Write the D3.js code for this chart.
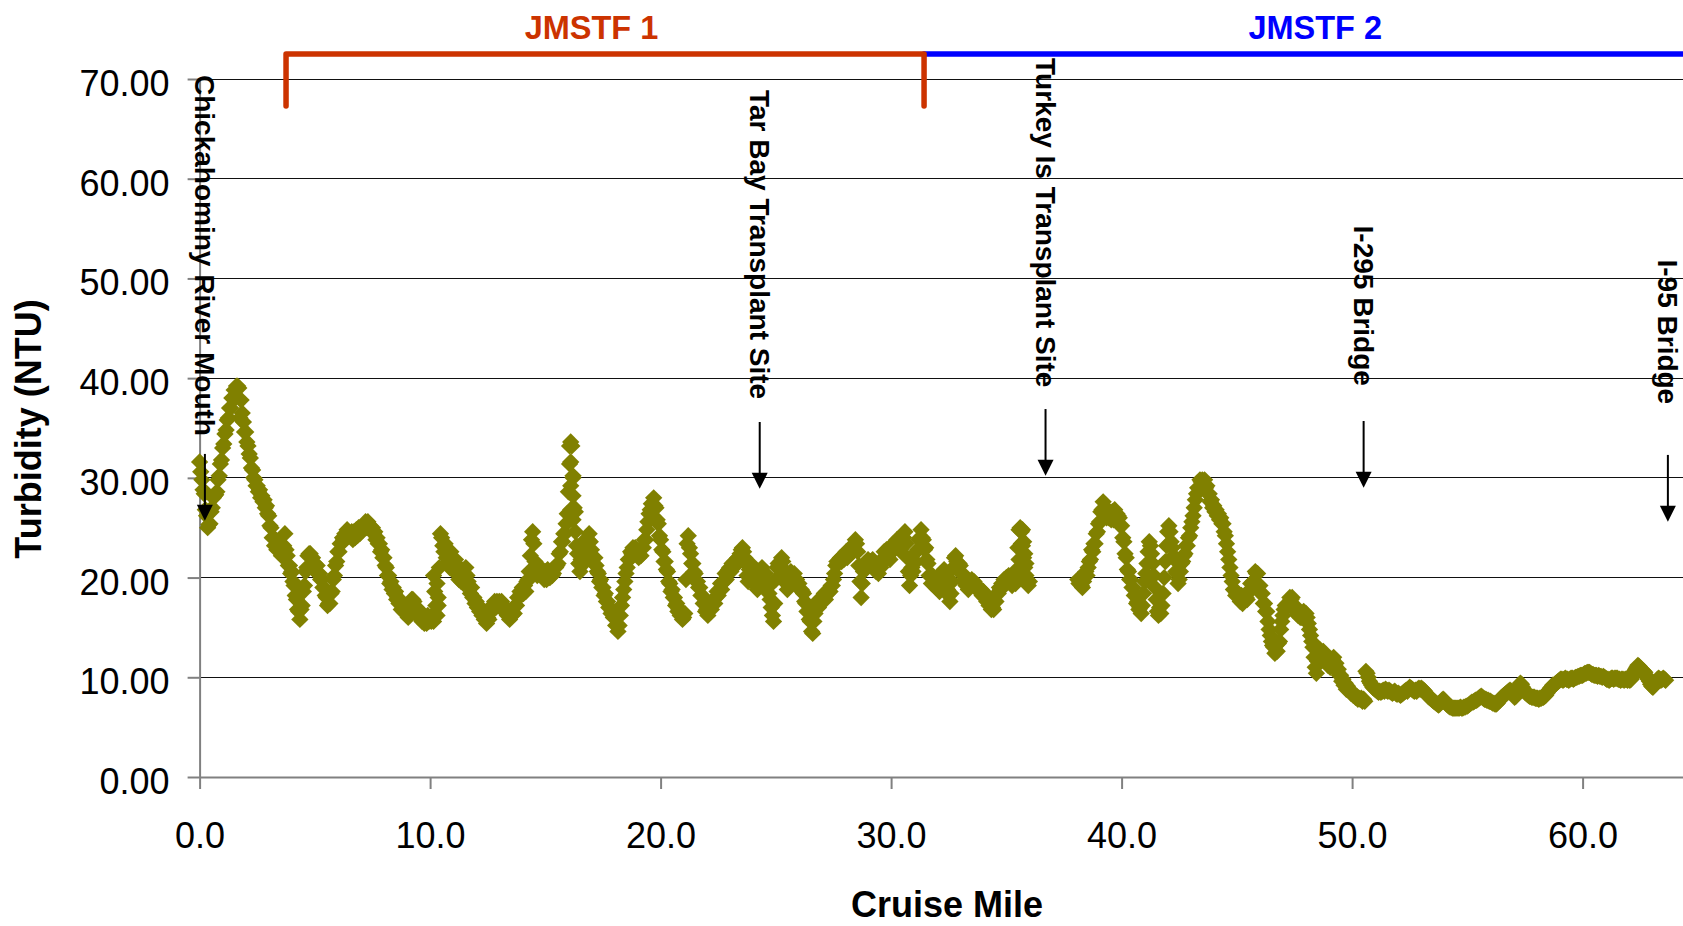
<!DOCTYPE html>
<html>
<head>
<meta charset="utf-8">
<script src="https://cdn.jsdelivr.net/npm/d3@7"></script>
<style>
  body { margin: 0; background: #fff; }
  svg { display: block; }
  text { font-family: "Liberation Sans", Arial, sans-serif; }
</style>
</head>
<body>
<svg id="chart" width="1683" height="926"></svg>
<script>
// Turbidity readings, one every 0.05 cruise mile, per segment (start mile given)
const STEP = 0.05;

// miles 0.00 - 11.95
const seg1Start = 0.0;
const seg1 = [
  31.6,30.6,29.8,28.8,28.4,26.8,26.2,25.0,25.3,25.4,26.6,27.0,28.0,28.2,28.3,28.6,29.8,30.2,31.4,31.8,
  33.0,33.4,34.4,34.8,35.8,36.0,37.0,37.0,38.0,38.0,38.8,38.0,39.2,39.2,39.0,36.0,37.8,36.5,35.6,34.6,
  34.6,33.6,33.2,32.4,32.0,31.0,30.8,30.0,29.8,29.2,29.2,28.6,28.8,28.0,28.2,27.6,27.8,27.0,27.2,26.4,
  26.2,25.2,25.0,24.0,24.0,23.2,23.8,22.8,22.8,23.0,23.0,22.2,22.2,23.2,24.4,22.8,22.2,21.2,21.2,20.4,
  20.6,19.6,19.2,18.2,17.8,16.8,16.6,15.8,16.8,17.2,18.6,19.2,20.6,21.0,22.2,22.4,22.4,21.2,22.0,20.8,
  21.4,20.6,21.2,20.4,20.4,19.8,19.8,19.0,19.0,18.2,18.0,17.2,17.4,17.4,18.4,18.6,19.8,20.2,21.2,21.6,
  22.6,22.6,23.4,23.4,24.0,23.8,24.4,24.2,24.8,24.2,24.4,24.4,24.6,23.8,24.6,24.0,24.8,24.2,25.0,24.4,
  25.0,24.8,25.0,25.0,25.6,25.0,25.6,25.0,25.2,25.0,25.0,24.4,24.6,23.8,24.0,23.4,23.4,22.6,22.8,22.0,
  22.0,21.2,21.0,20.2,20.2,19.4,19.6,18.8,19.0,18.4,18.6,17.8,18.0,17.4,17.6,16.8,17.4,16.6,16.8,16.6,
  16.6,16.0,16.8,16.8,17.8,17.8,17.6,16.8,17.0,16.2,16.8,16.0,16.2,15.6,16.2,15.4,16.0,15.4,16.2,15.6,
  15.8,15.6,16.2,15.6,16.4,16.2,16.2,17.2,21.0,24.4,24.0,23.2,22.6,23.4,22.0,21.4,22.2,21.0,22.6,21.8,
  21.4,20.6,21.8,20.4,21.2,19.8,20.6,19.6,20.2,19.4,20.4,21.0,20.2,19.6,19.2,18.4,19.0,18.0,18.0,17.4
];

// miles 12.00 - 23.95
const seg2Start = 12.0;
const seg2 = [
  17.6,17.0,17.2,16.6,16.8,16.2,16.4,15.8,16.0,15.4,16.0,15.8,16.6,16.6,17.2,17.0,17.6,17.0,17.6,17.4,
  17.6,17.0,17.6,17.0,17.2,16.6,16.8,16.2,16.4,15.8,16.4,16.2,16.4,16.4,17.2,17.2,18.0,18.0,18.6,18.4,
  19.0,18.4,19.2,18.6,19.6,19.8,20.6,22.2,23.8,24.6,23.4,21.6,20.8,20.2,21.2,20.4,20.4,20.6,20.6,19.8,
  20.6,19.8,20.8,20.0,20.0,20.2,20.2,20.4,21.0,21.0,21.2,21.4,22.4,22.6,23.6,23.6,24.4,24.4,25.4,26.4,
  28.6,31.4,33.6,33.2,30.2,27.0,24.6,23.2,22.4,21.4,20.6,21.8,22.8,23.6,22.4,21.6,22.8,23.8,24.4,23.6,
  22.8,22.0,21.4,22.0,21.2,20.6,20.4,19.6,19.8,19.0,19.0,18.2,18.4,17.6,17.6,17.0,17.0,16.4,16.6,16.0,
  16.0,15.2,15.2,14.6,15.2,16.2,17.2,18.0,18.8,19.6,20.4,21.0,21.8,21.8,22.6,22.4,23.0,22.8,23.0,22.4,
  22.6,22.0,22.8,22.2,23.0,23.0,23.8,23.8,24.8,25.6,26.4,26.8,27.4,27.4,28.0,27.2,27.0,25.8,25.4,24.2,
  23.8,22.8,22.6,21.6,21.6,20.8,20.6,19.6,19.4,18.6,18.8,18.0,18.0,17.2,17.4,16.6,16.8,16.2,16.4,15.8,
  16.0,16.4,19.8,23.4,24.2,23.0,22.4,21.4,21.4,20.6,20.4,19.6,19.6,19.0,19.0,18.2,18.2,17.4,17.4,16.6,
  16.8,16.2,17.0,17.2,16.8,17.4,17.8,17.4,18.0,18.6,18.2,18.8,19.4,18.8,19.6,19.6,20.4,19.8,20.6,20.8,
  21.0,20.6,21.4,21.2,21.6,21.2,21.8,22.0,21.6,22.4,22.8,23.0,22.6,22.0,21.4,20.2,19.6,20.8,21.4,20.6
];

// miles 24.00 - 36.00
const seg3Start = 24.0;
const seg3 = [
  20.2,19.6,20.4,19.2,18.8,19.6,20.2,20.8,21.0,20.4,19.8,20.4,19.6,19.0,18.4,17.8,17.0,16.2,15.6,17.4,
  19.8,21.0,21.4,21.0,21.6,22.0,21.6,20.8,20.0,19.4,18.8,19.6,20.2,20.6,20.2,19.8,20.4,19.6,19.8,19.4,
  19.4,18.8,18.8,18.6,18.4,17.6,17.4,16.6,16.6,15.8,15.6,14.6,14.4,15.6,16.4,17.0,17.6,17.0,17.8,17.6,
  18.0,17.8,18.4,17.8,18.6,18.4,18.6,18.6,19.2,19.2,19.8,20.4,21.2,21.6,21.4,21.8,22.0,21.6,22.2,21.8,
  22.2,22.6,22.0,22.4,22.8,22.4,22.8,23.2,23.4,23.8,23.4,22.6,21.2,19.6,18.0,19.4,20.6,21.2,21.4,21.0,
  21.8,21.6,21.6,21.6,21.8,21.0,21.2,20.6,21.2,20.4,21.0,21.0,21.8,21.8,22.6,22.0,22.8,22.0,22.6,21.8,
  22.6,22.6,23.4,23.4,23.6,23.8,23.8,22.8,22.8,23.0,24.0,24.0,24.6,23.4,22.0,20.6,19.2,20.2,21.0,20.6,
  21.4,21.6,22.6,22.8,23.8,24.0,24.8,24.0,23.8,22.8,23.0,21.8,21.4,20.2,20.2,19.4,20.2,19.4,19.6,19.0,
  19.2,18.8,18.6,19.0,19.8,20.6,20.8,20.2,19.4,18.8,18.2,17.6,18.4,19.6,21.0,22.0,22.2,21.6,21.2,21.4,
  21.2,20.4,20.4,19.6,19.8,19.2,19.4,18.8,19.4,19.2,19.8,19.6,19.6,19.0,19.2,19.0,19.0,18.8,18.8,18.2,
  18.6,18.0,18.2,17.6,17.8,17.2,17.4,16.8,17.0,16.8,17.6,17.6,18.4,18.4,19.0,18.8,19.4,19.2,19.8,19.6,
  20.0,19.8,20.2,19.8,19.6,19.2,19.6,20.0,19.4,20.8,23.0,24.8,25.0,24.6,23.2,22.0,21.0,20.2,19.8,19.2,
  19.6
];

// miles 38.10 - 49.95
const seg4Start = 38.1;
const seg4 = [
  19.8,19.4,19.6,19.2,19.0,19.6,20.2,20.6,20.2,21.0,21.6,21.8,22.8,22.6,23.4,23.4,24.4,24.6,
  25.4,25.6,26.6,26.8,27.6,27.0,26.8,26.0,26.8,26.0,26.0,25.8,26.6,25.8,26.8,26.2,26.4,26.2,26.0,25.2,
  25.2,24.0,23.6,22.4,22.0,20.8,20.6,19.8,19.8,19.0,19.0,18.2,18.2,17.4,17.6,16.8,17.0,16.4,17.2,18.4,
  19.6,20.4,21.4,22.6,23.6,23.2,22.4,21.4,20.2,19.0,17.8,16.6,16.2,17.0,16.4,17.2,18.4,20.0,21.6,23.2,
  24.6,25.2,24.6,23.6,23.0,22.2,21.8,20.6,20.4,19.4,19.8,20.6,21.4,21.6,22.2,22.4,23.2,23.2,24.0,24.2,
  25.0,25.6,26.2,27.0,27.8,28.4,29.0,29.0,29.8,29.6,29.8,29.2,29.8,29.0,29.2,28.4,28.4,27.6,27.8,27.0,
  27.2,26.6,26.8,26.2,26.4,25.8,26.0,25.4,25.4,24.6,24.2,23.4,22.6,21.8,21.0,20.2,19.6,18.8,18.8,18.2,
  18.4,18.2,18.2,17.6,18.2,17.4,18.0,18.0,18.0,17.8,18.6,18.6,19.4,19.4,19.6,19.6,20.6,20.4,20.4,19.2,
  19.2,18.4,18.4,17.4,17.4,16.6,16.6,15.6,14.8,14.2,13.6,13.2,13.0,12.4,13.2,12.6,13.4,13.6,14.8,15.6,
  16.2,16.8,17.2,17.2,17.4,17.4,18.0,17.8,18.0,17.2,17.2,16.6,16.8,16.2,16.2,16.0,16.0,16.0,16.6,16.4,
  16.4,16.0,15.4,14.8,14.2,13.6,13.0,12.0,11.0,10.4,11.6,12.4,12.8,12.4,12.0,12.6,12.2,11.8,11.6,11.2,
  11.2,11.0,11.8,11.8,12.0,11.2,11.4,10.6,10.8,10.2,10.2,9.6,9.8,9.2,9.4,8.8,9.1,8.7,8.7,8.4
];

// miles 50.00 - 63.60
const seg5Start = 50.0;
const seg5 = [
  8.5,8.2,8.3,8.0,8.1,7.8,7.9,7.8,7.9,7.6,7.8,7.6,10.6,10.4,10.0,9.6,9.4,9.2,9.0,8.9,
  8.8,8.7,8.6,8.5,8.6,8.5,8.6,8.7,8.6,8.8,8.7,8.6,8.7,8.6,8.5,8.4,8.5,8.6,8.4,8.3,
  8.4,8.3,8.2,8.3,8.4,8.5,8.6,8.7,8.6,8.8,9.0,8.9,8.8,8.7,8.6,8.7,8.6,8.8,8.9,8.8,
  8.9,8.8,8.7,8.6,8.4,8.3,8.1,8.0,7.9,7.8,7.7,7.6,7.5,7.4,7.3,7.2,7.3,7.5,7.7,7.8,
  7.7,7.5,7.3,7.2,7.1,7.0,7.0,6.9,6.9,6.9,6.9,6.9,6.9,6.9,7.0,6.9,6.9,7.0,7.0,7.1,
  7.1,7.2,7.3,7.4,7.5,7.5,7.6,7.7,7.7,7.8,7.9,8.0,8.1,8.0,7.9,7.8,7.8,7.7,7.7,7.6,
  7.6,7.5,7.4,7.4,7.3,7.3,7.4,7.6,7.7,7.9,8.0,8.1,8.2,8.3,8.4,8.5,8.6,8.7,8.6,8.4,
  8.2,8.0,8.1,8.4,8.8,9.1,9.4,9.3,9.0,8.7,8.5,8.4,8.3,8.2,8.1,8.1,8.0,8.0,8.0,7.9,
  7.9,7.9,7.8,7.9,7.9,8.0,8.0,8.1,8.2,8.4,8.6,8.7,8.9,9.0,9.2,9.2,9.3,9.4,9.5,9.6,
  9.7,9.8,9.8,9.7,9.8,9.9,9.8,9.8,9.7,9.8,9.9,9.9,9.8,9.9,10.0,10.0,10.1,10.1,10.2,10.2,
  10.2,10.3,10.4,10.4,10.5,10.5,10.5,10.4,10.3,10.3,10.2,10.2,10.2,10.1,10.2,10.1,10.1,10.0,10.1,10.0,
  9.9,9.8,9.8,9.7,9.8,9.9,9.9,9.8,9.9,9.9,9.9,9.8,9.8,9.7,9.8,9.8,9.7,9.8,9.8,9.7,
  9.8,9.7,9.8,10.0,10.3,10.6,10.8,11.0,11.2,11.1,10.9,10.8,10.7,10.6,10.5,10.2,10.0,9.8,9.6,9.3,
  9.1,9.0,9.2,9.4,9.6,9.8,9.9,9.8,9.7,9.8,9.9,9.8,9.7
];

// scattered readings where the boat lingered (spikes)
const extraMiles = [10.15, 10.3, 10.2, 10.35, 10.25, 16.05, 16.1, 16.2, 16.1, 16.2, 16.1, 16.3, 16.2,
                    35.55, 35.6, 35.65, 35.7, 35.75, 35.8, 35.85, 35.75];
const extraVals  = [20.2, 19.4, 18.6, 18.0, 17.2, 33.2, 31.6, 30.0, 29.2, 28.2, 26.8, 26.6, 25.8,
                    21.8, 20.6, 23.4, 24.8, 23.6, 22.4, 21.4, 20.4];

// axis ticks
const yTicks = [0, 10, 20, 30, 40, 50, 60, 70];
const xTicks = [0, 10, 20, 30, 40, 50, 60];

// landmarks along the river
const siteNames = ["Chickahominy River Mouth", "Tar Bay Transplant Site", "Turkey Is Transplant Site", "I-295 Bridge", "I-95 Bridge"];
const siteMiles = [0.23, 24.3, 36.7, 50.5, 63.7];
const siteLabelTop = [70.4, 68.9, 72.1, 55.3, 51.9];   // turbidity units
const siteArrowTip = [25.7, 28.9, 30.2, 29.0, 25.6];

// study segments
const zoneNames = ["JMSTF 1", "JMSTF 2"];
const zoneFrom = [3.75, 31.43];
const zoneTo = [31.43, 70];
const zoneLabelMile = [17.0, 48.4];
const zoneColors = ["#CC3300", "#0000FF"];
const zoneHasEnds = [true, false];

const W = 1683, H = 926;
const svg = d3.select("#chart");

const x = d3.scaleLinear().domain([0, 70]).range([199.6, 199.6 + 70 * 23.05]);
const y = d3.scaleLinear().domain([0, 70]).range([777, 79]);

// gridlines
svg.append("g").selectAll("line")
  .data(yTicks.filter(d => d > 0))
  .join("line")
  .attr("x1", x(0)).attr("x2", W)
  .attr("y1", d => y(d)).attr("y2", d => y(d))
  .attr("stroke", "#111").attr("stroke-width", 1)
  .attr("shape-rendering", "crispEdges");

// y axis
svg.append("g")
  .attr("transform", `translate(${x(0)},0)`)
  .call(d3.axisLeft(y).tickValues(yTicks).tickFormat(d3.format(".2f"))
    .tickSize(12).tickSizeOuter(0).tickPadding(18))
  .attr("font-size", 36).attr("font-family", null)
  .call(g => g.selectAll("text").attr("y", 5).attr("fill", "#000"))
  .call(g => g.selectAll("line, path").attr("stroke", "#808080").attr("stroke-width", 2));

// x axis
svg.append("g")
  .attr("transform", `translate(0,${y(0)})`)
  .call(d3.axisBottom(x).tickValues(xTicks).tickFormat(d3.format(".1f"))
    .tickSize(12).tickSizeOuter(0))
  .attr("font-size", 36).attr("font-family", null)
  .call(g => g.selectAll("text").attr("dy", null).attr("y", 71).attr("fill", "#000"))
  .call(g => g.selectAll("line, path").attr("stroke", "#808080").attr("stroke-width", 2));

// data points
const segments = [[seg1Start, seg1], [seg2Start, seg2], [seg3Start, seg3], [seg4Start, seg4], [seg5Start, seg5]];
const points = segments.flatMap(([start, vals]) =>
  vals.map((v, i) => ({ mile: start + i * STEP, val: v })));
extraMiles.forEach((m, i) => points.push({ mile: m, val: extraVals[i] }));

const diamond = d3.symbol(d3.symbolSquare, 150);
svg.append("g").selectAll("path")
  .data(points)
  .join("path")
  .attr("d", diamond)
  .attr("transform", d => `translate(${x(d.mile)},${y(d.val)}) rotate(45)`)
  .attr("fill", "#808000");

// study segment brackets
const zones = svg.append("g");
[1, 0].forEach(i => {
  const top = y(72.5), bot = y(67.3);
  const x0 = x(zoneFrom[i]), x1 = x(zoneTo[i]);
  const p = zoneHasEnds[i]
    ? `M${x0},${bot}V${top}H${x1}V${bot}`
    : `M${x0},${top}H${x1}`;
  zones.append("path")
    .attr("d", p)
    .attr("fill", "none")
    .attr("stroke", zoneColors[i])
    .attr("stroke-width", 5.5)
    .attr("stroke-linecap", "round")
    .attr("stroke-linejoin", "round");
  zones.append("text")
    .attr("x", x(zoneLabelMile[i])).attr("y", y(74))
    .attr("text-anchor", "middle")
    .attr("font-size", 32.5).attr("font-weight", "bold")
    .attr("fill", zoneColors[i])
    .text(zoneNames[i]);
});

// landmark labels and arrows
const sites = svg.append("g");
siteNames.forEach((name, i) => {
  const sx = x(siteMiles[i]);
  sites.append("text")
    .attr("transform", `translate(${sx},${y(siteLabelTop[i])}) rotate(90)`)
    .attr("dy", "0.35em")
    .attr("font-size", 28).attr("font-weight", "bold")
    .attr("fill", "#000")
    .text(name);
  const tip = y(siteArrowTip[i]);
  const tail = y(siteArrowTip[i] + 6.7);
  sites.append("line")
    .attr("x1", sx).attr("x2", sx)
    .attr("y1", tail).attr("y2", tip - 12)
    .attr("stroke", "#000").attr("stroke-width", 2);
  sites.append("path")
    .attr("d", `M${sx - 8},${tip - 16}L${sx + 8},${tip - 16}L${sx},${tip}Z`)
    .attr("fill", "#000");
});

// axis titles
svg.append("text")
  .attr("transform", "translate(28,429) rotate(-90)")
  .attr("dy", "0.35em")
  .attr("text-anchor", "middle")
  .attr("font-size", 36).attr("font-weight", "bold")
  .text("Turbidity (NTU)");

svg.append("text")
  .attr("x", 947).attr("y", 917)
  .attr("text-anchor", "middle")
  .attr("font-size", 36).attr("font-weight", "bold")
  .text("Cruise Mile");
</script>
</body>
</html>
